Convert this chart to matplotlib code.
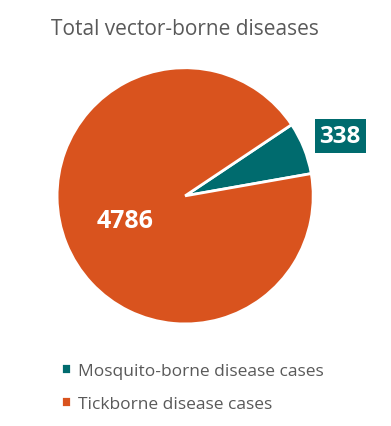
import matplotlib.pyplot as plt

labels = ['Mosquito-borne disease cases', 'Tickborne disease cases']
values = [338, 4786]
colors = ['#006B6E', '#D9531E']

plt.rcParams['font.family'] = ['Open Sans', 'DejaVu Sans']

fig = plt.figure(figsize=(3.91, 4.27), dpi=100)
ax = fig.add_axes([0.146, 0.239, 0.655, 0.6])

wedges, _ = ax.pie(values, colors=colors, startangle=10, counterclock=True,
                   wedgeprops=dict(edgecolor='white', linewidth=2))
ax.set_xlim(-1, 1)
ax.set_ylim(-1, 1)
ax.set_aspect('auto')

# value labels
ax.text(1.21, 0.47, str(values[0]), color='white', fontsize=17.5, fontweight='bold',
        ha='center', va='center',
        bbox=dict(boxstyle='square,pad=0.2', facecolor=colors[0], edgecolor='none'))
ax.text(-0.47, -0.195, str(values[1]), color='white', fontsize=18, fontweight='bold',
        ha='center', va='center')

fig.text(0.473, 0.93, 'Total vector-borne diseases', ha='center', va='center',
         fontsize=15, color='#595959')

fig.legend(wedges, labels, loc='upper left', bbox_to_anchor=(0.115, 0.185),
           frameon=False, fontsize=12.5, labelcolor='#595959',
           handlelength=0.6, handleheight=0.6, handletextpad=0.4,
           labelspacing=1.0)

fig.savefig('out.png', dpi=100)
